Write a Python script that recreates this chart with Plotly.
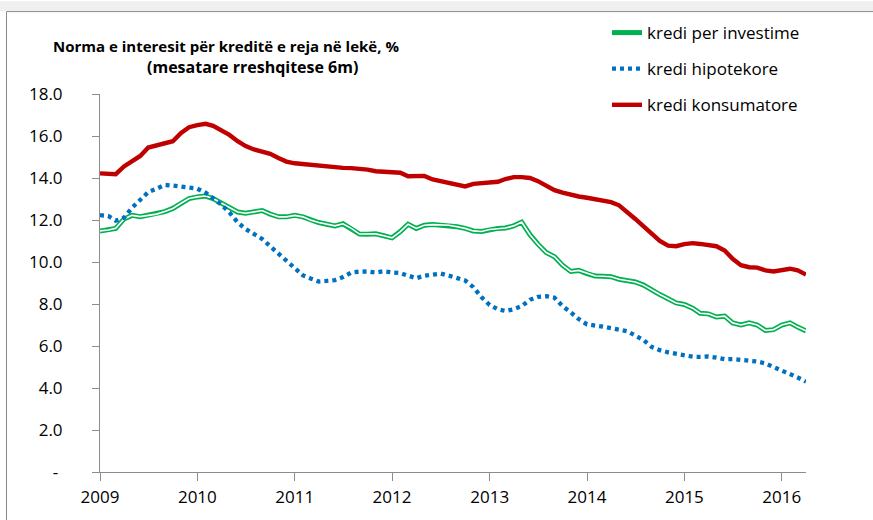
import pandas as pd
import plotly.graph_objects as go

# ---- data (monthly, Jan 2009 - Apr 2016) ----
months = pd.date_range("2009-01-01", periods=88, freq="MS")

kredi_investime = [
    11.48, 11.52, 11.60, 12.05, 12.22, 12.16, 12.22, 12.28, 12.40, 12.55, 12.80, 13.02,
    13.10, 13.14, 13.02, 12.80, 12.58, 12.38, 12.32, 12.38, 12.45, 12.28, 12.15, 12.15,
    12.22, 12.15, 12.00, 11.88, 11.80, 11.72, 11.82, 11.60, 11.33, 11.32, 11.34, 11.25,
    11.15, 11.45, 11.80, 11.60, 11.75, 11.78, 11.76, 11.75, 11.68, 11.60, 11.48, 11.45,
    11.55, 11.60, 11.62, 11.72, 11.90, 11.30, 10.85, 10.45, 10.25, 9.85, 9.55, 9.60,
    9.45, 9.33, 9.32, 9.30, 9.18, 9.10, 9.05, 8.90, 8.65, 8.45, 8.25, 8.05,
    7.98, 7.80, 7.56, 7.53, 7.38, 7.42, 7.10, 7.00, 7.10, 7.00, 6.74, 6.78,
    7.00, 7.10, 6.90, 6.72,
]

kredi_hipotekore = [
    12.23, 12.19, 11.97, 12.11, 12.58, 12.94, 13.33, 13.49, 13.67, 13.64, 13.60, 13.55,
    13.49, 13.30, 13.02, 12.73, 12.36, 11.89, 11.57, 11.33, 11.10, 10.75, 10.40, 10.08,
    9.72, 9.36, 9.22, 9.07, 9.10, 9.14, 9.28, 9.50, 9.54, 9.55, 9.50, 9.56,
    9.50, 9.47, 9.35, 9.23, 9.35, 9.42, 9.45, 9.35, 9.22, 9.12, 8.80, 8.33,
    7.95, 7.75, 7.67, 7.75, 7.90, 8.20, 8.34, 8.37, 8.30, 7.90, 7.60, 7.28,
    7.03, 6.95, 6.92, 6.85, 6.80, 6.70, 6.50, 6.28, 5.95, 5.80, 5.70, 5.63,
    5.57, 5.49, 5.48, 5.50, 5.45, 5.37, 5.38, 5.36, 5.30, 5.26, 5.17, 5.00,
    4.83, 4.69, 4.50, 4.30,
]

kredi_konsumatore = [
    14.22, 14.20, 14.18, 14.55, 14.78, 15.05, 15.45, 15.55, 15.68, 15.75, 16.15, 16.42,
    16.52, 16.58, 16.48, 16.28, 16.05, 15.75, 15.52, 15.36, 15.27, 15.15, 14.95, 14.78,
    14.70, 14.66, 14.62, 14.58, 14.53, 14.50, 14.48, 14.47, 14.45, 14.40, 14.32, 14.30,
    14.29, 14.25, 14.08, 14.08, 14.10, 13.93, 13.85, 13.72, 13.68, 13.60, 13.72, 13.74,
    13.78, 13.82, 13.95, 14.04, 14.04, 14.00, 13.85, 13.65, 13.42, 13.30, 13.20, 13.12,
    13.06, 13.00, 12.92, 12.85, 12.70, 12.40, 12.05, 11.70, 11.35, 11.00, 10.78, 10.75,
    10.85, 10.90, 10.86, 10.82, 10.75, 10.55, 10.15, 9.85, 9.75, 9.73, 9.60, 9.55,
    9.62, 9.68, 9.60, 9.40,
]

series_names = ["kredi per investime", "kredi hipotekore", "kredi konsumatore"]
year_ticks = ["2009-01-01", "2010-01-01", "2011-01-01", "2012-01-01",
              "2013-01-01", "2014-01-01", "2015-01-01", "2016-01-01"]
year_labels = ["2009", "2010", "2011", "2012", "2013", "2014", "2015", "2016"]
y_ticks = [0, 2, 4, 6, 8, 10, 12, 14, 16, 18]
y_labels = ["-\u00a0"] + [f"{v:.1f}" for v in y_ticks[1:]]

title_line1 = "Norma e interesit për kreditë e reja në lekë, %"
title_line2 = "(mesatare rreshqitese 6m)"

# ---- layout geometry ----
W, H = 873, 520
L, R, T, B = 100, 67, 94, 43
PW, PH = W - L - R, H - T - B


def px(x):
    return (x - L) / PW


def py(y):
    return (H - B - y) / PH


FONT = "Open Sans, Noto Sans, sans-serif"
GREEN = "#00B050"
BLUE = "#0070C0"
RED = "#C00000"
AXIS = "#8C8C8C"

fig = go.Figure()

fig.add_trace(go.Scatter(
    x=months, y=kredi_investime, name=series_names[0], mode="lines",
    line=dict(color=GREEN, width=5), legendrank=1, legendgroup="a",
))
fig.add_trace(go.Scatter(
    x=months, y=kredi_investime, name=series_names[0], mode="lines",
    line=dict(color="white", width=1.6), showlegend=False, hoverinfo="skip",
    legendgroup="a",
))
fig.add_trace(go.Scatter(
    x=months, y=kredi_hipotekore, name=series_names[1], mode="lines",
    line=dict(color=BLUE, width=4.3, dash="4px,4px"), legendrank=2, legendgroup="b",
))
fig.add_trace(go.Scatter(
    x=months, y=kredi_konsumatore, name=series_names[2], mode="lines",
    line=dict(color=RED, width=4.4), legendrank=3, legendgroup="c",
))

fig.update_layout(
    width=W, height=H,
    margin=dict(l=L, r=R, t=T, b=B),
    paper_bgcolor="white", plot_bgcolor="white",
    font=dict(family=FONT, size=17, color="#000000"),
    showlegend=True,
    legend=dict(
        x=px(607), xanchor="left",
        y=py(14), yanchor="top",
        font=dict(family=FONT, size=17, color="#000000"),
        tracegroupgap=11,
        bgcolor="rgba(0,0,0,0)",
        itemwidth=30,
    ),
    xaxis=dict(
        type="date",
        range=["2009-01-01", "2016-04-01"],
        tickvals=year_ticks, ticktext=year_labels,
        ticks="outside", ticklen=8, tickcolor=AXIS, tickwidth=1,
        showline=True, linecolor=AXIS, linewidth=1,
        showgrid=False, zeroline=False,
        ticklabelstandoff=2,
        tickfont=dict(family=FONT, size=17, color="#000000"),
    ),
    yaxis=dict(
        range=[0, 18],
        tickvals=y_ticks, ticktext=y_labels,
        ticks="outside", ticklen=7, tickcolor=AXIS, tickwidth=1,
        showline=True, linecolor=AXIS, linewidth=1,
        showgrid=False, zeroline=False,
        ticklabelstandoff=26,
        tickfont=dict(family=FONT, size=17, color="#000000"),
    ),
    annotations=[
        dict(text=f"<b>{title_line1}</b>", xref="paper", yref="paper",
             x=px(226), y=py(45), xanchor="center", yanchor="middle",
             showarrow=False, font=dict(family=FONT, size=15, color="#000000")),
        dict(text=f"<b>{title_line2}</b>", xref="paper", yref="paper",
             x=px(252), y=py(67), xanchor="center", yanchor="middle",
             showarrow=False, font=dict(family=FONT, size=16, color="#000000")),
    ],
    shapes=[
        dict(type="rect", xref="paper", yref="paper",
             x0=px(0), x1=px(W), y0=py(0), y1=py(10),
             fillcolor="#EFEFEF", line=dict(width=0), layer="below"),
        dict(type="rect", xref="paper", yref="paper",
             x0=px(6.5), x1=px(W + 10), y0=py(10.5), y1=py(H + 10),
             fillcolor="rgba(0,0,0,0)", line=dict(color="#8A8A8A", width=1),
             layer="below"),
    ],
)

fig.write_html(
    "out.html",
    config={"displayModeBar": False},
    post_script="document.body.style.margin='0';document.body.style.overflow='hidden';",
)
